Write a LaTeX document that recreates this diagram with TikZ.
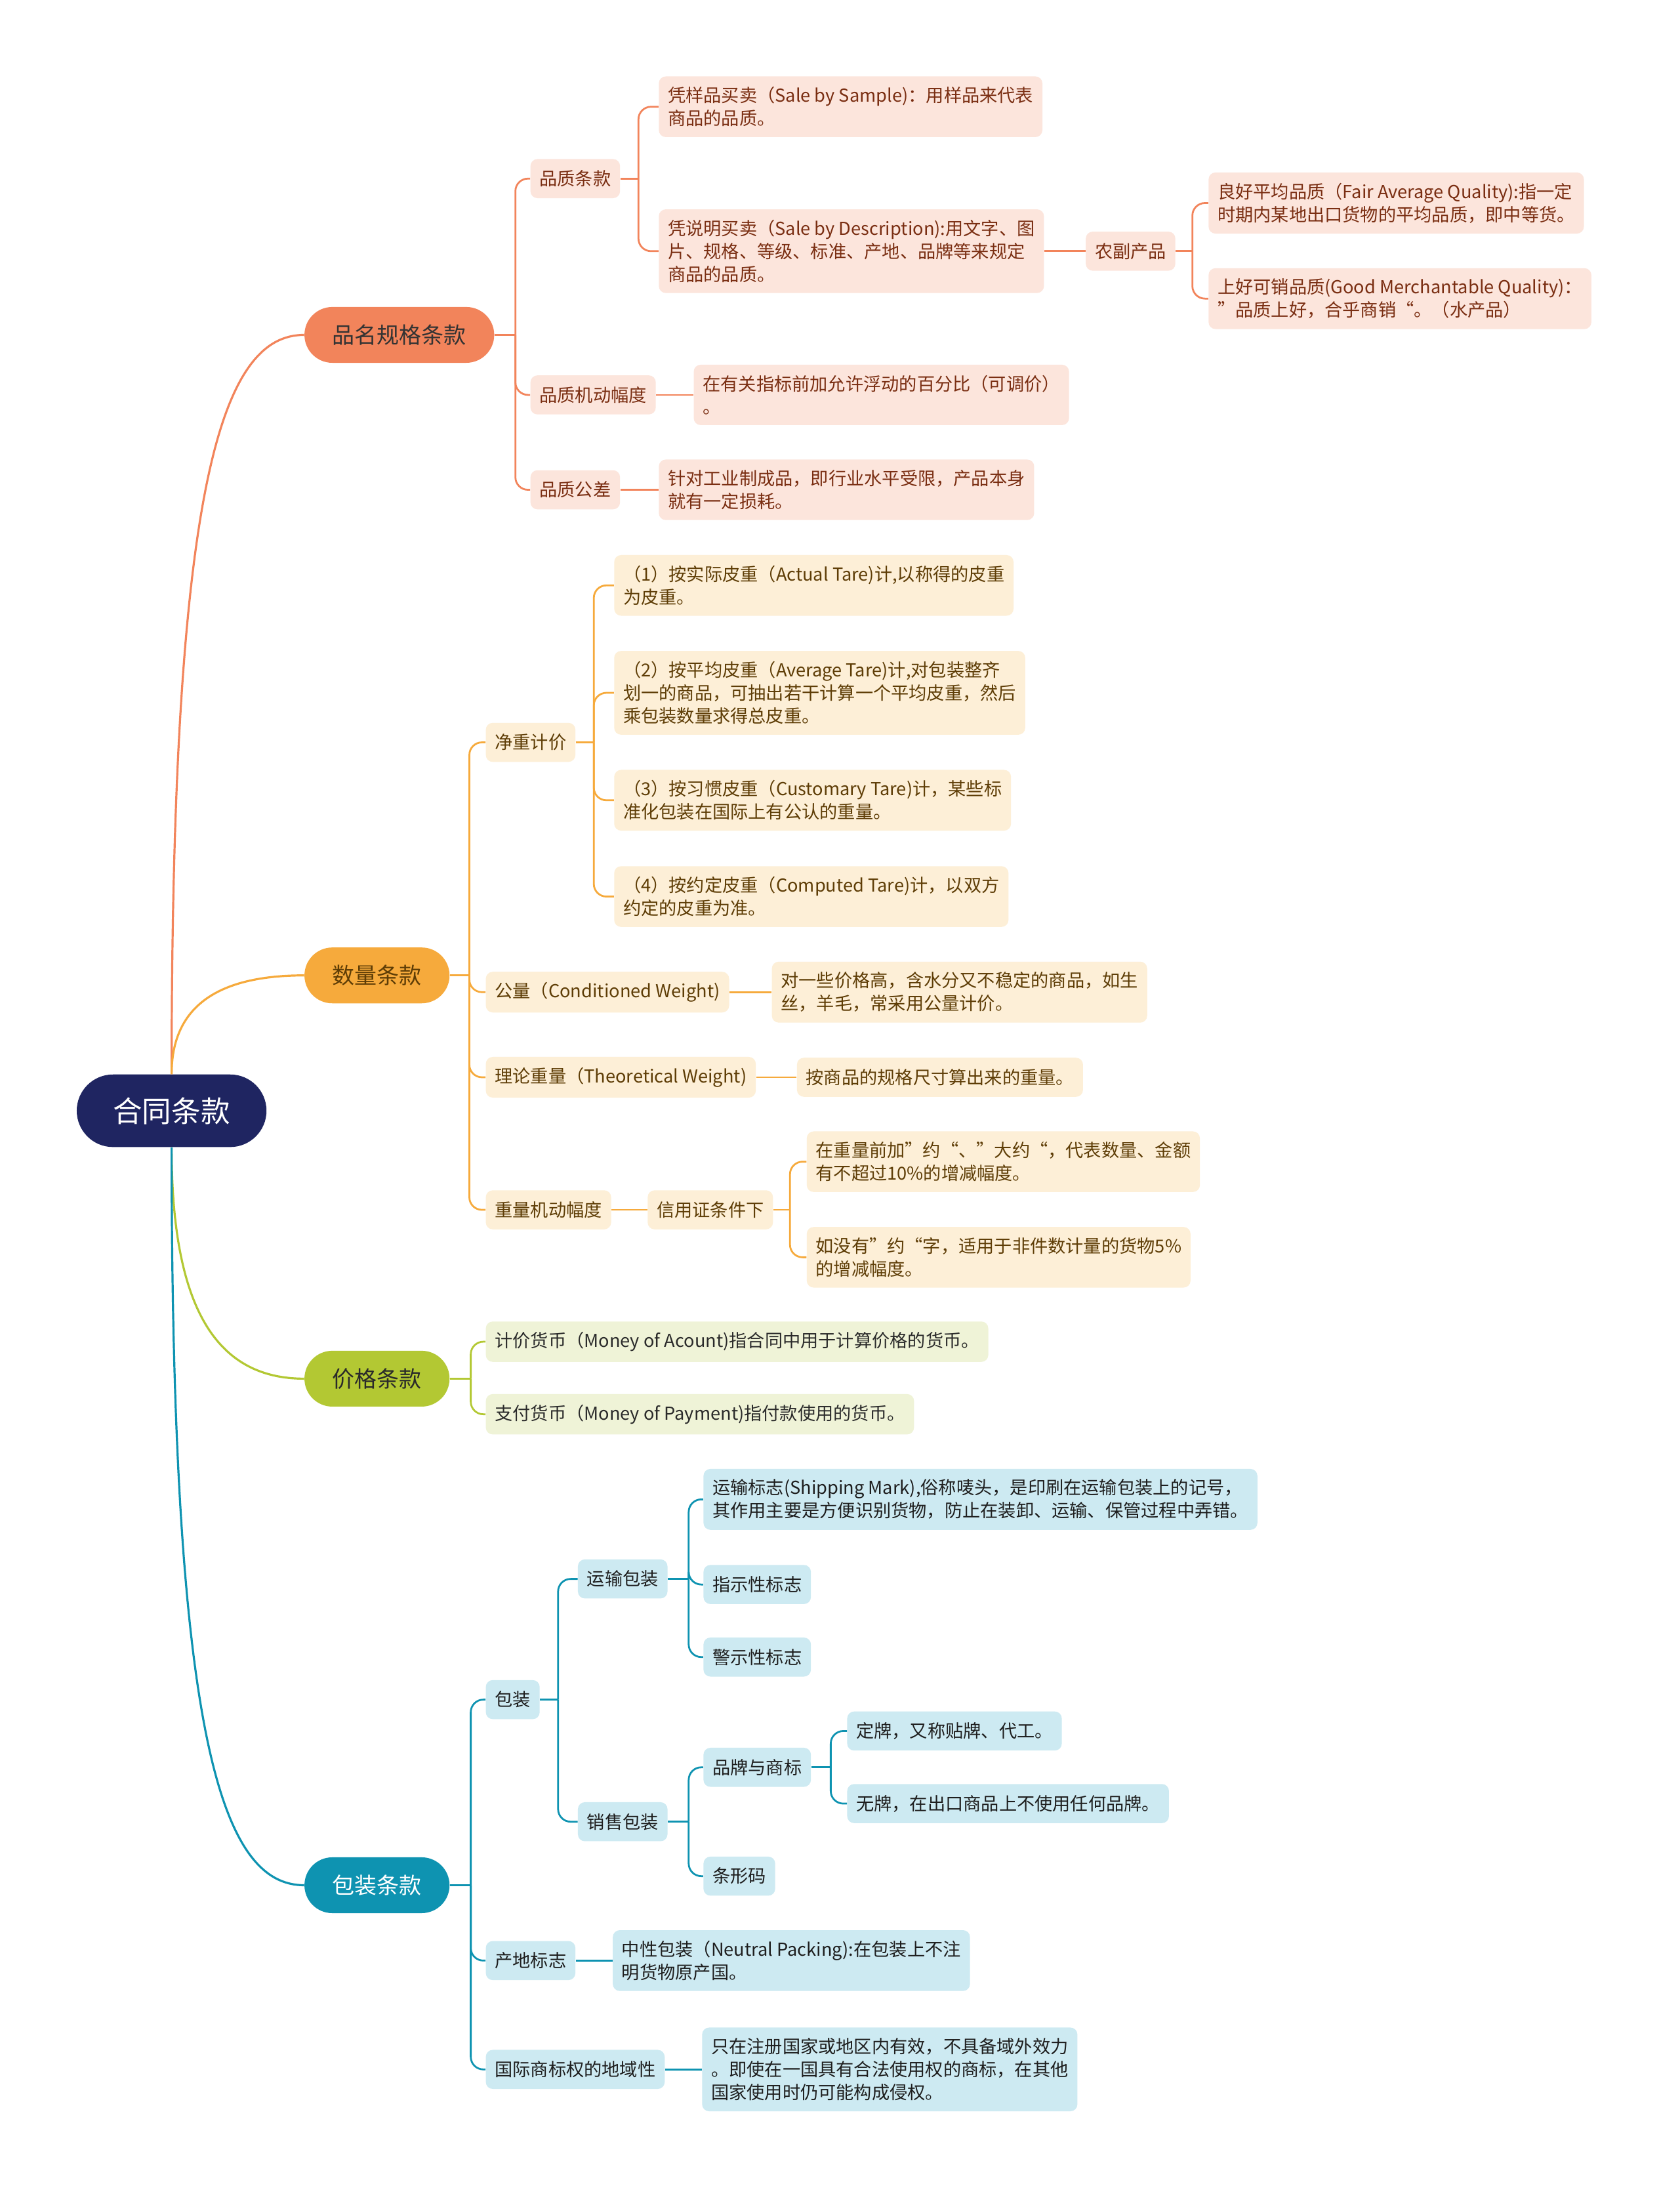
\documentclass[tikz,border=0pt]{standalone}
\usepackage{fontspec}
\setmainfont{Noto Sans CJK SC}
\usetikzlibrary{positioning}
\definecolor{navy}{HTML}{1F2561}
\definecolor{cA}{HTML}{F2845B}
\definecolor{cAl}{HTML}{FCE5DC}
\definecolor{cAt}{HTML}{7A2E12}
\definecolor{cB}{HTML}{F6AA3C}
\definecolor{cBl}{HTML}{FDEFD7}
\definecolor{cBt}{HTML}{5E3D06}
\definecolor{cC}{HTML}{B3C833}
\definecolor{cCl}{HTML}{EFF3D7}
\definecolor{cCt}{HTML}{2A2A2A}
\definecolor{cD}{HTML}{0E93B1}
\definecolor{cDl}{HTML}{CDEAF2}
\definecolor{cDt}{HTML}{1E1E1E}

\begin{document}
\begin{tikzpicture}[x=1pt, y=-1pt,
  root/.style={fill=navy, text=white, rounded corners=26, minimum height=52, inner xsep=26, font=\fontsize{21}{25}\selectfont},
  topic/.style={rounded corners=20, minimum height=40, inner xsep=20, anchor=west, font=\fontsize{16}{19}\selectfont},
  leaf/.style={rounded corners=5, inner xsep=6.5, inner ysep=7.5, minimum height=28, align=left, anchor=west, font=\fontsize{12.8}{16.5}\selectfont},
  lA/.style={leaf, fill=cAl, text=cAt}, lB/.style={leaf, fill=cBl, text=cBt},
  lC/.style={leaf, fill=cCl, text=cCt}, lD/.style={leaf, fill=cDl, text=cDt},
  bA/.style={draw=cA, line width=1.3}, bB/.style={draw=cB, line width=1.3},
  bC/.style={draw=cC, line width=1.3}, bD/.style={draw=cD, line width=1.3},
  fork/.style={rounded corners=9}]
\fill[white] (0,0) rectangle (1204,1568);
\useasboundingbox (0,0) rectangle (1204,1568);

\node[root] (root) at (123,796) {合同条款};
\node[topic, fill=cA, text=black!80] (t1) at (218,240) {品名规格条款};
\node[topic, fill=cB, text=cBt] (t2) at (218,699) {数量条款};
\node[topic, fill=cC, text=cCt] (t3) at (218,988) {价格条款};
\node[topic, fill=cD, text=white] (t4) at (218,1351) {包装条款};
\draw[bA, line width=1.5] (root.north) .. controls +(0,-420) and +(-60,0) .. (t1.west);
\draw[bB, line width=1.5] (root.north) .. controls +(0,-50) and +(-60,0) .. (t2.west);
\draw[bC, line width=1.5] (root.south) .. controls +(0,120) and +(-60,0) .. (t3.west);
\draw[bD, line width=1.5] (root.south) .. controls +(0,420) and +(-60,0) .. (t4.west);

% 品名规格条款
\node[lA] (pzt) at (380,128) {品质条款};
\node[lA] (pjd) at (380,283) {品质机动幅度};
\node[lA] (pgc) at (380,351) {品质公差};
\node[lA] (ypm) at (472,76.5) {凭样品买卖（Sale by Sample)：用样品来代表\\商品的品质。};
\node[lA] (smm) at (472,180) {凭说明买卖（Sale by Description):用文字、图\\片、规格、等级、标准、产地、品牌等来规定\\商品的品质。};
\node[lA] (nfc) at (778,180) {农副产品};
\node[lA] (lhp) at (866,145.5) {良好平均品质（Fair Average Quality):指一定\\时期内某地出口货物的平均品质，即中等货。};
\node[lA] (shk) at (866,214) {上好可销品质(Good Merchantable Quality)：\\”品质上好，合乎商销“。（水产品）};
\node[lA] (fdb) at (497,283) {在有关指标前加允许浮动的百分比（可调价）\\。};
\node[lA] (zdg) at (472,351) {针对工业制成品，即行业水平受限，产品本身\\就有一定损耗。};
\draw[bA] (t1.east) -- ++(15,0) coordinate (sA);
\draw[bA, fork] (sA) |- (pzt.west); \draw[bA, fork] (sA) |- (pjd.west); \draw[bA, fork] (sA) |- (pgc.west);
\draw[bA] (pzt.east) -- ++(13,0) coordinate (sA1);
\draw[bA, fork] (sA1) |- (ypm.west); \draw[bA, fork] (sA1) |- (smm.west);
\draw[bA] (smm.east) -- (nfc.west);
\draw[bA] (nfc.east) -- ++(12,0) coordinate (sA2);
\draw[bA, fork] (sA2) |- (lhp.west); \draw[bA, fork] (sA2) |- (shk.west);
\draw[bA] (pjd.east) -- (fdb.west); \draw[bA] (pgc.east) -- (zdg.west);

% 数量条款
\node[lB] (jzj) at (348,532) {净重计价};
\node[lB] (gl) at (348,711) {公量（Conditioned Weight)};
\node[lB] (llz) at (348,772) {理论重量（Theoretical Weight)};
\node[lB] (zjd) at (348,867) {重量机动幅度};
\node[lB] (pz1) at (440,419.5) {（1）按实际皮重（Actual Tare)计,以称得的皮重\\为皮重。};
\node[lB] (pz2) at (440,496.5) {（2）按平均皮重（Average Tare)计,对包装整齐\\划一的商品，可抽出若干计算一个平均皮重，然后\\乘包装数量求得总皮重。};
\node[lB] (pz3) at (440,573.5) {（3）按习惯皮重（Customary Tare)计，某些标\\准化包装在国际上有公认的重量。};
\node[lB] (pz4) at (440,642.5) {（4）按约定皮重（Computed Tare)计，以双方\\约定的皮重为准。};
\node[lB] (glx) at (553,711) {对一些价格高，含水分又不稳定的商品，如生\\丝，羊毛，常采用公量计价。};
\node[lB] (llx) at (571,772) {按商品的规格尺寸算出来的重量。};
\node[lB] (xyz) at (464,867) {信用证条件下};
\node[lB] (dyq) at (578,832.5) {在重量前加”约“、”大约“，代表数量、金额\\有不超过10\%的增减幅度。};
\node[lB] (myy) at (578,901) {如没有”约“字，适用于非件数计量的货物5\%\\的增减幅度。};
\draw[bB] (t2.east) -- ++(14,0) coordinate (sB);
\draw[bB, fork] (sB) |- (jzj.west); \draw[bB, fork] (sB) |- (gl.west);
\draw[bB, fork] (sB) |- (llz.west); \draw[bB, fork] (sB) |- (zjd.west);
\draw[bB] (jzj.east) -- ++(13,0) coordinate (sB1);
\draw[bB, fork] (sB1) |- (pz1.west); \draw[bB, fork] (sB1) |- (pz2.west);
\draw[bB, fork] (sB1) |- (pz3.west); \draw[bB, fork] (sB1) |- (pz4.west);
\draw[bB] (gl.east) -- (glx.west); \draw[bB] (llz.east) -- (llx.west);
\draw[bB] (zjd.east) -- (xyz.west);
\draw[bB] (xyz.east) -- ++(12,0) coordinate (sB2);
\draw[bB, fork] (sB2) |- (dyq.west); \draw[bB, fork] (sB2) |- (myy.west);

% 价格条款
\node[lC] (jjh) at (348,961.5) {计价货币（Money of Acount)指合同中用于计算价格的货币。};
\node[lC] (zfh) at (348,1013.5) {支付货币（Money of Payment)指付款使用的货币。};
\draw[bC] (t3.east) -- ++(15,0) coordinate (sC);
\draw[bC, fork] (sC) |- (jjh.west); \draw[bC, fork] (sC) |- (zfh.west);

% 包装条款
\node[lD] (bz) at (348,1218) {包装};
\node[lD] (cdb) at (348,1405) {产地标志};
\node[lD] (gjs) at (348,1483) {国际商标权的地域性};
\node[lD] (ysb) at (414,1131.5) {运输包装};
\node[lD] (xsb) at (414,1305.5) {销售包装};
\node[lD] (ysz) at (504,1074.5) {运输标志(Shipping Mark),俗称唛头，是印刷在运输包装上的记号，\\其作用主要是方便识别货物，防止在装卸、运输、保管过程中弄错。};
\node[lD] (zsx) at (504,1135.5) {指示性标志};
\node[lD] (jsx) at (504,1187.5) {警示性标志};
\node[lD] (ppsb) at (504,1266.5) {品牌与商标};
\node[lD] (txm) at (504,1344.5) {条形码};
\node[lD] (dp) at (607,1240.5) {定牌，又称贴牌、代工。};
\node[lD] (wp) at (607,1292.5) {无牌，在出口商品上不使用任何品牌。};
\node[lD] (zxb) at (439,1405) {中性包装（Neutral Packing):在包装上不注\\明货物原产国。};
\node[lD] (zcg) at (503,1483) {只在注册国家或地区内有效，不具备域外效力\\。即使在一国具有合法使用权的商标，在其他\\国家使用时仍可能构成侵权。};
\draw[bD] (t4.east) -- ++(15,0) coordinate (sD);
\draw[bD, fork] (sD) |- (bz.west); \draw[bD, fork] (sD) |- (cdb.west); \draw[bD, fork] (sD) |- (gjs.west);
\draw[bD] (bz.east) -- ++(13,0) coordinate (sD1);
\draw[bD, fork] (sD1) |- (ysb.west); \draw[bD, fork] (sD1) |- (xsb.west);
\draw[bD] (ysb.east) -- ++(15,0) coordinate (sD2);
\draw[bD, fork] (sD2) |- (ysz.west); \draw[bD, fork] (sD2) |- (zsx.west); \draw[bD, fork] (sD2) |- (jsx.west);
\draw[bD] (xsb.east) -- ++(15,0) coordinate (sD3);
\draw[bD, fork] (sD3) |- (ppsb.west); \draw[bD, fork] (sD3) |- (txm.west);
\draw[bD] (ppsb.east) -- ++(14,0) coordinate (sD4);
\draw[bD, fork] (sD4) |- (dp.west); \draw[bD, fork] (sD4) |- (wp.west);
\draw[bD] (cdb.east) -- (zxb.west); \draw[bD] (gjs.east) -- (zcg.west);
\end{tikzpicture}
\end{document}
